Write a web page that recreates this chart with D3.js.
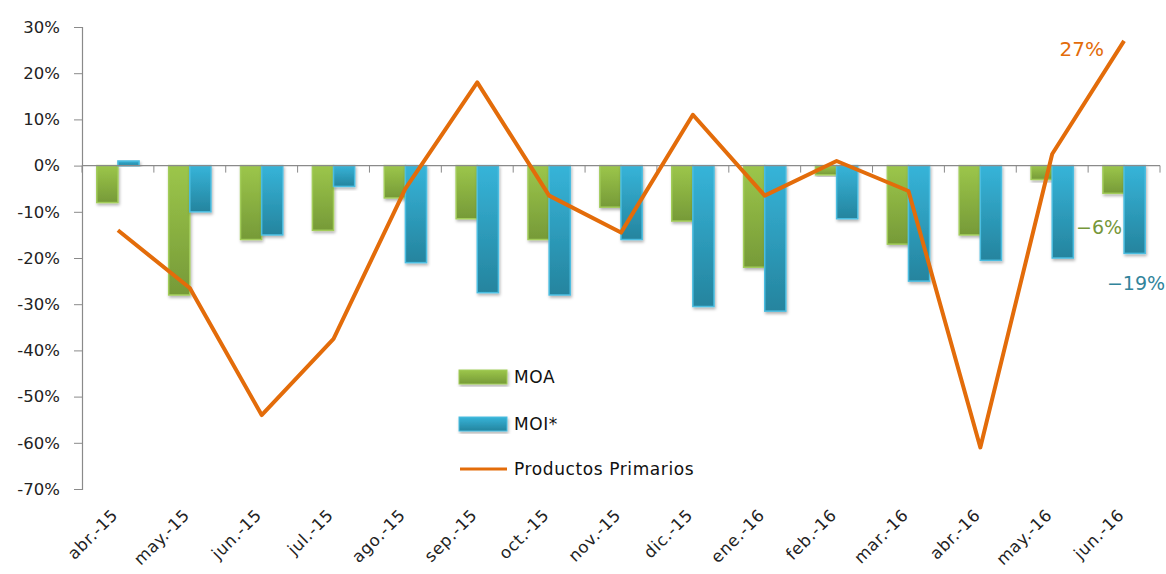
<!DOCTYPE html>
<html>
<head>
<meta charset="utf-8">
<script src="https://cdn.jsdelivr.net/npm/d3@7"></script>
<style>
  body { margin: 0; background: #fff; }
  text { font-family: "DejaVu Sans", sans-serif; }
  .axis-lbl { font-size: 16.5px; fill: #222; }
</style>
</head>
<body>
<div id="chart"></div>
<script>
// months on the x axis
const categories = ["abr.-15", "may.-15", "jun.-15", "jul.-15", "ago.-15", "sep.-15", "oct.-15",
  "nov.-15", "dic.-15", "ene.-16", "feb.-16", "mar.-16", "abr.-16", "may.-16", "jun.-16"];

// year-on-year variation, %
const moa = [-8, -28, -16, -14, -7, -11.5, -16, -9, -12, -22, -2, -17, -15, -3, -6];
const moi = [1, -10, -15, -4.5, -21, -27.5, -28, -16, -30.5, -31.5, -11.5, -25, -20.5, -20, -19];
const primarios = [-14, -26.5, -54, -37.5, -5, 18, -6.5, -14.5, 11, -6.5, 1, -5.5, -61, 2.5, 27];

const yTicks = [30, 20, 10, 0, -10, -20, -30, -40, -50, -60, -70];
const seriesNames = ["MOA", "MOI*", "Productos Primarios"];

const W = 1166, H = 574;
const margin = { left: 82, right: 6, top: 27, bottom: 85 };

const svg = d3.select("#chart").append("svg").attr("width", W).attr("height", H);

const defs = svg.append("defs");
function grad(id, c1, c2) {
  const g = defs.append("linearGradient").attr("id", id).attr("x1", 0).attr("y1", 0).attr("x2", 0).attr("y2", 1);
  g.append("stop").attr("offset", "0%").attr("stop-color", c1);
  g.append("stop").attr("offset", "100%").attr("stop-color", c2);
}
grad("gGreen", "#9cc64a", "#769a38");
grad("gBlue", "#36b4d9", "#25849e");
const sh = defs.append("filter").attr("id", "shadow").attr("x", "-20%").attr("y", "-20%").attr("width", "140%").attr("height", "140%");
sh.append("feDropShadow").attr("dx", 1).attr("dy", 2).attr("stdDeviation", 1.5).attr("flood-color", "#000").attr("flood-opacity", 0.3);

const x = d3.scaleBand().domain(categories).range([margin.left, W - margin.right]);
const y = d3.scaleLinear().domain([-70, 30]).range([H - margin.bottom, margin.top]);
const inner = d3.scaleBand().domain([0, 1]).range([0, x.bandwidth()]).paddingOuter(0.7).paddingInner(0);

// y axis
const yAxis = svg.append("g").attr("transform", `translate(${margin.left},0)`)
  .call(d3.axisLeft(y).tickValues(yTicks).tickSize(8).tickPadding(14).tickFormat(d => d + "%"));
yAxis.select(".domain").attr("stroke", "#8a8a8a").attr("stroke-width", 1.2);
yAxis.selectAll(".tick line").attr("stroke", "#8a8a8a");
yAxis.selectAll(".tick text").attr("class", "axis-lbl").attr("fill", "#222");

// bars
const bars = svg.append("g");
function drawBars(vals, cls, fill, stroke) {
  bars.selectAll("." + cls).data(vals).enter().append("rect")
    .attr("class", cls)
    .attr("x", (d, i) => x(categories[i]) + inner(cls === "moa" ? 0 : 1))
    .attr("width", inner.bandwidth())
    .attr("y", d => Math.min(y(d), y(0)))
    .attr("height", d => Math.abs(y(d) - y(0)))
    .attr("fill", fill)
    .attr("stroke", stroke)
    .attr("stroke-width", 1.5)
    .attr("filter", "url(#shadow)");
}
drawBars(moa, "moa", "url(#gGreen)", "#a2cc5a");
drawBars(moi, "moi", "url(#gBlue)", "#4bbde0");

// x axis on zero line
const xAxis = svg.append("g").attr("transform", `translate(0,${y(0)})`);
xAxis.append("line").attr("x1", margin.left).attr("x2", W - margin.right)
  .attr("stroke", "#8a8a8a").attr("stroke-width", 1.2);
xAxis.selectAll(".xt").data(d3.range(categories.length + 1)).enter().append("line")
  .attr("x1", i => margin.left + i * x.step()).attr("x2", i => margin.left + i * x.step())
  .attr("y1", 0).attr("y2", 7).attr("stroke", "#8a8a8a");

// month labels
svg.append("g").selectAll("text").data(categories).enter().append("text")
  .attr("class", "axis-lbl")
  .attr("text-anchor", "end")
  .attr("letter-spacing", 0.7)
  .attr("transform", d => `translate(${x(d) + x.bandwidth() / 2 + 1},${y(-70) + 27}) rotate(-45)`)
  .text(d => d);

// line
const line = d3.line().x((d, i) => x(categories[i]) + x.bandwidth() / 2).y(d => y(d));
svg.append("path").datum(primarios).attr("d", line)
  .attr("fill", "none").attr("stroke", "#e36c0a").attr("stroke-width", 4).attr("stroke-linejoin", "round");

// end labels
const last = categories.length - 1;
const cxLast = x(categories[last]) + x.bandwidth() / 2;
svg.append("text").attr("x", cxLast - 20).attr("y", y(primarios[last]) + 15)
  .attr("text-anchor", "end").attr("font-size", 20).attr("fill", "#e36c0a").text(primarios[last] + "%");
svg.append("text").attr("x", cxLast - 2).attr("y", y(moa[last]) + 41)
  .attr("text-anchor", "end").attr("font-size", 19).attr("fill", "#76973a").text("\u2212" + Math.abs(moa[last]) + "%");
svg.append("text").attr("x", cxLast + 41).attr("y", y(moi[last]) + 37)
  .attr("text-anchor", "end").attr("font-size", 19).attr("fill", "#31849b").text("\u2212" + Math.abs(moi[last]) + "%");

// legend
const leg = svg.append("g").attr("transform", "translate(459,370)");
const legFill = ["url(#gGreen)", "url(#gBlue)"];
const legStroke = ["#a2cc5a", "#4bbde0"];
seriesNames.forEach((name, i) => {
  const g = leg.append("g").attr("transform", `translate(0,${i * 47})`);
  if (i < 2) {
    g.append("rect").attr("width", 48).attr("height", 14).attr("fill", legFill[i])
      .attr("stroke", legStroke[i]).attr("filter", "url(#shadow)");
  } else {
    g.append("line").attr("x1", 1).attr("x2", 48).attr("y1", 5).attr("y2", 5)
      .attr("stroke", "#e36c0a").attr("stroke-width", 3);
  }
  g.append("text").attr("x", 55).attr("y", i < 2 ? 13 : 11).attr("font-size", 17)
    .attr("letter-spacing", 0.6).attr("fill", "#111").text(name);
});
</script>
</body>
</html>
